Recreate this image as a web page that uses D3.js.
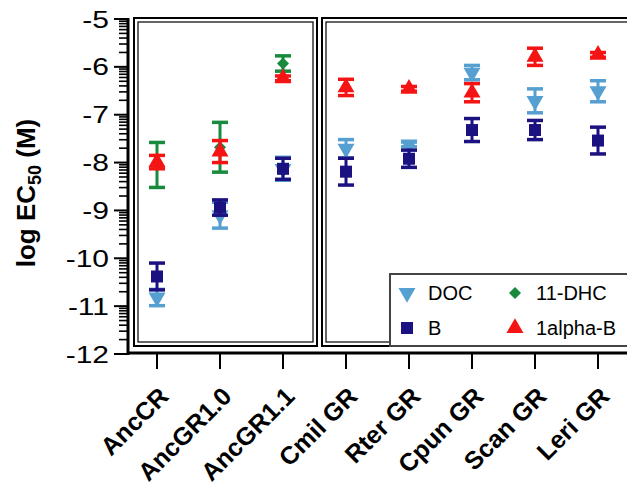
<!DOCTYPE html>
<html>
<head>
<meta charset="utf-8">
<script src="https://cdn.jsdelivr.net/npm/d3@7"></script>
<style>
  body { margin: 0; background: #fff; }
  svg { font-family: "Liberation Sans", Arial, sans-serif; }
</style>
</head>
<body>
<svg width="627" height="482"></svg>
<script>
const svg = d3.select("svg");

const categories = ["AncCR", "AncGR1.0", "AncGR1.1", "Cmil GR", "Rter GR", "Cpun GR", "Scan GR", "Leri GR"];
const yTicks = [-5, -6, -7, -8, -9, -10, -11, -12];

const docMean   = [-10.82, -9.10, -8.13, -7.71, -7.62, -6.12, -6.71, -6.51];
const docErr    = [0.17, 0.27, 0.24, 0.19, 0.05, 0.15, 0.25, 0.22];
const bMean     = [-10.38, -8.94, -8.13, -8.19, -7.92, -7.32, -7.32, -7.54];
const bErr      = [0.28, 0.16, 0.22, 0.28, 0.18, 0.24, 0.20, 0.28];
const dhcMean   = [-8.05, -7.68, -5.93];
const dhcErr    = [0.47, 0.52, 0.16];
const alphaMean = [-7.99, -7.77, -6.24, -6.43, -6.46, -6.54, -5.79, -5.75];
const alphaErr  = [0.14, 0.23, 0.05, 0.17, 0.05, 0.19, 0.18, 0.05];

const series = [
    { name: "DOC", mean: docMean, err: docErr, color: "#559fd1", symbol: d3.symbolTriangle, size: 125, rot: 180 },
    { name: "B", mean: bMean, err: bErr, color: "#1b1180", symbol: d3.symbolSquare, size: 144, rot: 0 },
    { name: "11-DHC", mean: dhcMean, err: dhcErr, color: "#178a3c", symbol: d3.symbolSquare, size: 72, rot: 45 },
    { name: "1alpha-B", mean: alphaMean, err: alphaErr, color: "#f51414", symbol: d3.symbolTriangle, size: 125, rot: 0 },
];

const x = d3.scalePoint().domain(categories).range([157, 598]);
const y = d3.scaleLinear().domain([-12, -5]).range([354, 19]);

// panels (double border)
const panels = [[134, 317], [322, 650]];
panels.forEach(([x0, x1]) => {
    svg.append("rect").attr("x", x0).attr("y", 18).attr("width", x1 - x0).attr("height", 328)
        .attr("fill", "none").attr("stroke", "#000").attr("stroke-width", 2);
    svg.append("rect").attr("x", x0 + 4).attr("y", 22).attr("width", x1 - x0 - 8).attr("height", 320)
        .attr("fill", "none").attr("stroke", "#000").attr("stroke-width", 1.2);
});

// y axis
const axisX = 128;
svg.append("line").attr("x1", axisX).attr("x2", axisX).attr("y1", y(-5) - 1).attr("y2", y(-12) + 1)
    .attr("stroke", "#000").attr("stroke-width", 3);

const minor = [];
for (let m = -12; m < -5; m++) {
    for (let k = 2; k <= 9; k++) minor.push(m + Math.log10(k));
}
svg.append("g").selectAll("line").data(minor).enter().append("line")
    .attr("x1", axisX - 9).attr("x2", axisX)
    .attr("y1", d => y(d)).attr("y2", d => y(d))
    .attr("stroke", "#000").attr("stroke-width", 1.6);

svg.append("g").selectAll("line").data(yTicks).enter().append("line")
    .attr("x1", axisX - 14).attr("x2", axisX)
    .attr("y1", d => y(d)).attr("y2", d => y(d))
    .attr("stroke", "#000").attr("stroke-width", 2);

// tick labels in the source are drawn wider than normal
svg.append("g").selectAll("text").data(yTicks).enter().append("text")
    .attr("transform", d => `translate(109,${y(d)}) scale(1.25,1)`)
    .attr("dy", "0.36em")
    .attr("text-anchor", "end").attr("font-size", 24)
    .text(d => d);

svg.append("text")
    .attr("transform", "translate(35,193) rotate(-90)")
    .attr("text-anchor", "middle").attr("font-size", 26).attr("font-weight", "bold")
    .call(t => {
        t.append("tspan").text("log EC");
        t.append("tspan").attr("font-size", 18).attr("dy", 6).text("50");
        t.append("tspan").attr("dy", -6).text(" (M)");
    });

// x axis
svg.append("line").attr("x1", axisX).attr("x2", 627).attr("y1", 353).attr("y2", 353)
    .attr("stroke", "#000").attr("stroke-width", 3);
svg.append("g").selectAll("line").data(categories).enter().append("line")
    .attr("x1", d => x(d)).attr("x2", d => x(d)).attr("y1", 353).attr("y2", 369)
    .attr("stroke", "#000").attr("stroke-width", 2);
svg.append("g").selectAll("text").data(categories).enter().append("text")
    .attr("transform", d => `translate(${x(d) + 13},398) rotate(-45)`)
    .attr("text-anchor", "end").attr("font-size", 25).attr("font-weight", "bold")
    .text(d => d);

// error bars + markers
series.forEach(s => {
    const g = svg.append("g");
    const pts = s.mean.map((v, i) => ({ cat: categories[i], v, e: s.err[i] }));
    g.selectAll(".bar").data(pts).enter().append("line")
        .attr("x1", d => x(d.cat)).attr("x2", d => x(d.cat))
        .attr("y1", d => y(d.v + d.e)).attr("y2", d => y(d.v - d.e))
        .attr("stroke", s.color).attr("stroke-width", 3);
    [1, -1].forEach(sign => {
        g.selectAll(".cap" + sign).data(pts).enter().append("line")
            .attr("x1", d => x(d.cat) - 8).attr("x2", d => x(d.cat) + 8)
            .attr("y1", d => y(d.v + sign * d.e)).attr("y2", d => y(d.v + sign * d.e))
            .attr("stroke", s.color).attr("stroke-width", 3.5);
    });
    g.selectAll("path").data(pts).enter().append("path")
        .attr("d", d3.symbol().type(s.symbol).size(s.size))
        .attr("transform", d => `translate(${x(d.cat)},${y(d.v)}) rotate(${s.rot})`)
        .attr("fill", s.color);
});

// legend
const legend = svg.append("g");
legend.append("rect").attr("x", 390).attr("y", 274).attr("width", 260).attr("height", 72)
    .attr("fill", "#fff").attr("stroke", "#444").attr("stroke-width", 2);
const legendPos = [[407, 293], [407, 328], [515, 293], [515, 328]];
series.forEach((s, i) => {
    const [lx, ly] = legendPos[i];
    legend.append("path")
        .attr("d", d3.symbol().type(s.symbol).size(s.size))
        .attr("transform", `translate(${lx},${ly}) rotate(${s.rot})`)
        .attr("fill", s.color);
    legend.append("text").attr("x", lx + 21).attr("y", ly).attr("dy", "0.36em")
        .attr("font-size", 20).text(s.name);
});
</script>
</body>
</html>
